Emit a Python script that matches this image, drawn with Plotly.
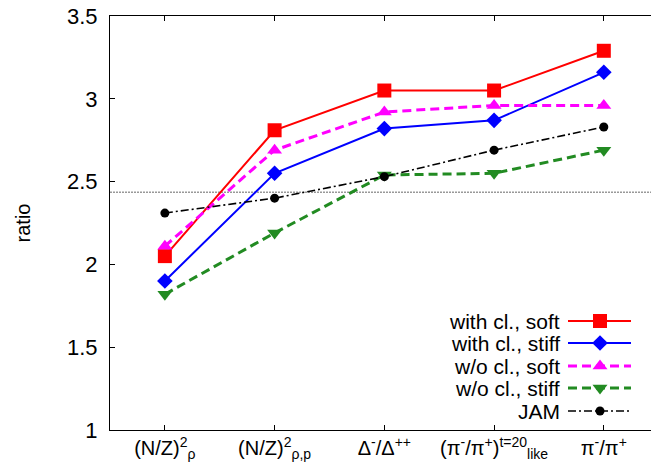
import plotly.graph_objects as go

categories = [
    "(N/Z)<sup>2</sup><sub>ρ</sub>",
    "(N/Z)<sup>2</sup><sub>ρ,p</sub>",
    "Δ<sup>-</sup>/Δ<sup>++</sup>",
    "(π<sup>-</sup>/π<sup>+</sup>)<sup>t=20</sup><sub>like</sub>",
    "π<sup>-</sup>/π<sup>+</sup>",
]
x_pos = [1, 2, 3, 4, 5]

with_cl_soft = [2.05, 2.81, 3.05, 3.05, 3.29]
with_cl_stiff = [1.90, 2.55, 2.82, 2.87, 3.16]
wo_cl_soft = [2.11, 2.69, 2.92, 2.96, 2.96]
wo_cl_stiff = [1.82, 2.19, 2.54, 2.55, 2.69]
jam = [2.31, 2.40, 2.53, 2.69, 2.83]
reference_value = 2.435

y_ticks = [1, 1.5, 2, 2.5, 3, 3.5]
y_tick_labels = ["1", "1.5", "2", "2.5", "3", "3.5"]

series_names = ["with cl., soft", "with cl., stiff", "w/o cl., soft", "w/o cl., stiff", "JAM"]
series_values = [with_cl_soft, with_cl_stiff, wo_cl_soft, wo_cl_stiff, jam]

styles = [
    dict(color="#ff0000", width=2, dash="solid", symbol="square", size=14),
    dict(color="#0000ff", width=2, dash="solid", symbol="diamond", size=12),
    dict(color="#ff00ff", width=3, dash="9px,5px", symbol="triangle-up", size=13),
    dict(color="#228b22", width=3, dash="9px,5px", symbol="triangle-down", size=13),
    dict(color="#000000", width=1.6, dash="8px,3px,2px,3px", symbol="circle", size=9),
]

FONT = "Liberation Sans"
fig = go.Figure()

for name, vals, st in zip(series_names, series_values, styles):
    fig.add_trace(go.Scatter(
        x=x_pos, y=vals, mode="lines+markers", name=name,
        line=dict(color=st["color"], width=st["width"], dash=st["dash"]),
        marker=dict(symbol=st["symbol"], size=st["size"], color=st["color"], line=dict(width=0)),
        showlegend=False, cliponaxis=False,
    ))

# custom legend (text on left, sample on right) drawn on a pixel-like overlay axis
legend_rows = [321, 343, 366, 388, 411]
for name, st, yy in zip(series_names, styles, legend_rows):
    fig.add_trace(go.Scatter(
        x=[568, 631], y=[yy, yy], mode="lines", xaxis="x2", yaxis="y2",
        line=dict(color=st["color"], width=st["width"], dash=st["dash"]),
        showlegend=False, hoverinfo="skip",
    ))
    fig.add_trace(go.Scatter(
        x=[600], y=[yy], mode="markers", xaxis="x2", yaxis="y2",
        marker=dict(symbol=st["symbol"], size=st["size"], color=st["color"], line=dict(width=0)),
        showlegend=False, hoverinfo="skip",
    ))
    fig.add_annotation(x=561, y=yy, xref="x2", yref="y2", text=name, showarrow=False,
                       xanchor="right", yanchor="middle", borderpad=0,
                       font=dict(size=21, color="black", family=FONT))

fig.add_shape(type="line", xref="paper", yref="y", x0=0, x1=1, y0=reference_value, y1=reference_value,
              line=dict(color="#999999", width=1.5, dash="2px,1px"), layer="below")

fig.update_layout(
    width=651, height=474,
    margin=dict(l=110, r=0, t=16, b=44),
    plot_bgcolor="white", paper_bgcolor="white",
    font=dict(family=FONT, size=20, color="black"),
    xaxis=dict(range=[0.5, 5.43], tickvals=x_pos, ticktext=categories, automargin=False,
               showline=True, linecolor="black", linewidth=1, mirror="ticks",
               ticks="inside", ticklen=5, tickcolor="black", showgrid=False, zeroline=False,
               tickfont=dict(size=20, family=FONT)),
    yaxis=dict(range=[1, 3.5], tickvals=y_ticks, ticktext=y_tick_labels, automargin=False,
               showline=True, linecolor="black", linewidth=1,
               ticks="inside", ticklen=5, tickcolor="black", showgrid=False, zeroline=False,
               ticklabelstandoff=7,
               title=dict(text="ratio", font=dict(size=20, family=FONT), standoff=31),
               tickfont=dict(size=22, family=FONT)),
    xaxis2=dict(overlaying="x", range=[110, 651], visible=False, anchor="y2"),
    yaxis2=dict(overlaying="y", range=[430, 16], visible=False, anchor="x2"),
)

fig.write_html("out.html", config={"displayModeBar": False},
               post_script="document.body.style.margin='0';document.body.style.padding='0';")
